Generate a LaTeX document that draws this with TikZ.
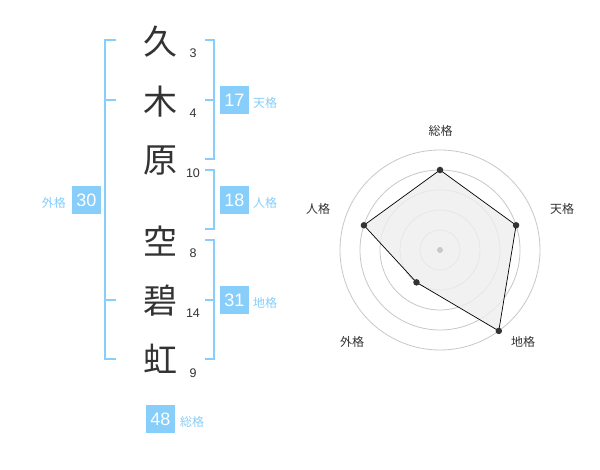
\documentclass[tikz,border=0pt]{standalone}
\usepackage{fontspec}
\usetikzlibrary{calc}
\setmainfont{Liberation Sans}
\newfontfamily\cjk{Noto Sans CJK JP}
\definecolor{sky}{RGB}{135,206,250}
\definecolor{ink}{RGB}{51,51,51}
\definecolor{ring}{RGB}{200,200,200}
\definecolor{area}{RGB}{238,238,238}
\begin{document}
\begin{tikzpicture}[x=1pt,y=-1pt,
  kanji/.style={inner sep=0pt,text=ink,font=\cjk\fontsize{34}{34}\selectfont},
  strokes/.style={inner sep=0pt,text=ink,font=\fontsize{12.5}{12.5}\selectfont},
  brk/.style={draw=sky,line width=2pt},
  box/.style={fill=sky,text=white,minimum width=29pt,minimum height=28pt,inner sep=0pt,font=\fontsize{18}{18}\selectfont},
  lab/.style={inner sep=0pt,text=sky,font=\cjk\fontsize{12}{12}\selectfont},
  ringline/.style={draw=ring,line width=0.8pt},
  axlab/.style={inner sep=0pt,text=ink,font=\cjk\fontsize{12}{12}\selectfont},
  dot/.style={circle,fill=ink,inner sep=0pt,minimum size=6.5pt}]
\useasboundingbox[fill=white] (0,0) rectangle (600,470);
% kanji
\node[kanji] (k1) at (160,42) {久};
\node[kanji] (k2) at (160,102) {木};
\node[kanji] (k3) at (160,161) {原};
\node[kanji] (k4) at (160,241) {空};
\node[kanji] (k5) at (160,301) {碧};
\node[kanji] (k6) at (160,359) {虹};
% stroke counts
\node[strokes] (s1) at (193,53) {3};
\node[strokes] (s2) at (193,113) {4};
\node[strokes] (s3) at (193,173) {10};
\node[strokes] (s4) at (193,253) {8};
\node[strokes] (s5) at (193,313) {14};
\node[strokes] (s6) at (193,373) {9};
% brackets
\draw[brk] (116,40) -- (105,40) -- (105,359) -- (116,359);
\draw[brk] (105,100) -- (116,100);
\draw[brk] (105,300) -- (116,300);
\draw[brk] (205,40) -- (214,40) -- (214,159) -- (205,159);
\draw[brk] (205,100) -- (214,100);
\draw[brk] (205,170) -- (214,170) -- (214,229) -- (205,229);
\draw[brk] (205,240) -- (214,240) -- (214,359) -- (205,359);
\draw[brk] (205,300) -- (214,300);
% boxes
\node[box] (b17) at (234.5,100) {17};
\node[lab,anchor=west] (l17) at (253,103) {天格};
\node[box] (b18) at (234.5,200) {18};
\node[lab,anchor=west] (l18) at (253,203) {人格};
\node[box] (b31) at (234.5,300) {31};
\node[lab,anchor=west] (l31) at (253,303) {地格};
\node[box] (b30) at (86.5,200) {30};
\node[lab,anchor=east] (l30) at (66,203) {外格};
\node[box] (b48) at (160.5,419) {48};
\node[lab,anchor=west] (l48) at (180,422) {総格};
% radar
\coordinate (c) at (440,250);
\foreach \r in {20,40,60,80,100} \draw[ringline] (c) circle[radius=\r pt];
\coordinate (p1) at ($(c)+(90:80pt)$);
\coordinate (p2) at ($(c)+(18:80pt)$);
\coordinate (p3) at ($(c)+(-54:100pt)$);
\coordinate (p4) at ($(c)+(-126:40pt)$);
\coordinate (p5) at ($(c)+(162:80pt)$);
\fill[area,opacity=0.8] (p1) -- (p2) -- (p3) -- (p4) -- (p5) -- cycle;
\draw[black,line width=0.7pt] (p1) -- (p2) -- (p3) -- (p4) -- (p5) -- cycle;
\node[circle,fill=ring,inner sep=0pt,minimum size=6pt] (cd) at (c) {};
\foreach \i in {1,...,5} \node[dot] (d\i) at (p\i) {};
\node[axlab] (a1) at (440.5,130.5) {総格};
\node[axlab] (a2) at (562,209) {天格};
\node[axlab] (a3) at (523,342) {地格};
\node[axlab] (a4) at (352,342) {外格};
\node[axlab] (a5) at (318,209) {人格};
\end{tikzpicture}
\end{document}
